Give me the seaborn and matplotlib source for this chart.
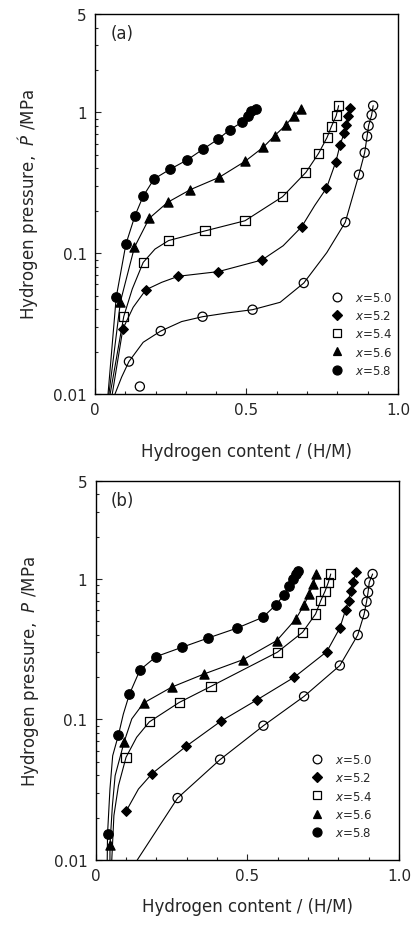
import matplotlib
matplotlib.use("Agg")
import matplotlib.pyplot as plt
import seaborn as sns
import pandas as pd
from matplotlib.lines import Line2D
from matplotlib.ticker import FixedLocator, LogLocator, NullFormatter, MultipleLocator

# composition labels
labels = ["5.0", "5.2", "5.4", "5.6", "5.8"]

# ---- panel (a): measured points (H/M, MPa)
a_50 = [(0.112, 0.017), (0.217, 0.028), (0.355, 0.0354), (0.520, 0.0397), (0.689, 0.0614),
        (0.826, 0.166), (0.871, 0.361), (0.890, 0.518), (0.898, 0.676), (0.903, 0.804),
        (0.913, 0.958), (0.918, 1.117)]
a_50_stray = [(0.148, 0.0113)]
a_52 = [(0.092, 0.029), (0.168, 0.055), (0.275, 0.0686), (0.407, 0.074), (0.551, 0.0895),
        (0.682, 0.154), (0.764, 0.290), (0.795, 0.447), (0.809, 0.590), (0.822, 0.71),
        (0.830, 0.818), (0.836, 0.948), (0.843, 1.074)]
a_54 = [(0.095, 0.0356), (0.159, 0.086), (0.243, 0.123), (0.363, 0.144), (0.495, 0.170),
        (0.619, 0.252), (0.696, 0.375), (0.738, 0.512), (0.766, 0.665), (0.780, 0.793),
        (0.796, 0.948), (0.804, 1.117)]
a_56 = [(0.084, 0.0453), (0.130, 0.110), (0.179, 0.177), (0.240, 0.230), (0.315, 0.283),
        (0.410, 0.346), (0.495, 0.449), (0.555, 0.565), (0.593, 0.684), (0.630, 0.814),
        (0.656, 0.948), (0.679, 1.057)]
a_58 = [(0.070, 0.0486), (0.102, 0.116), (0.132, 0.185), (0.159, 0.254), (0.195, 0.337),
        (0.249, 0.396), (0.305, 0.461), (0.357, 0.549), (0.407, 0.647), (0.445, 0.754),
        (0.484, 0.849), (0.505, 0.948), (0.516, 1.017), (0.533, 1.057)]

# ---- panel (a): extra points
a_50_curve = [(0.066, 0.010), (0.088, 0.0132), (0.159, 0.0233), (0.286, 0.0327),
              (0.435, 0.0376), (0.611, 0.0448), (0.765, 0.101)]
a_52_curve = [(0.057, 0.010), (0.126, 0.0413), (0.220, 0.0621), (0.621, 0.113),
              (0.725, 0.218)]
a_54_curve = [(0.050, 0.010), (0.123, 0.0557), (0.198, 0.107)]
a_56_curve = [(0.046, 0.010)]
a_58_curve = [(0.043, 0.010)]

# ---- panel (b): measured points
b_50 = [(0.270, 0.0276), (0.410, 0.0518), (0.553, 0.0903), (0.687, 0.146), (0.805, 0.242),
        (0.864, 0.399), (0.885, 0.562), (0.893, 0.688), (0.898, 0.803), (0.902, 0.946),
        (0.913, 1.084)]
b_52 = [(0.100, 0.0222), (0.186, 0.0412), (0.298, 0.0644), (0.412, 0.097), (0.532, 0.138),
        (0.655, 0.200), (0.762, 0.304), (0.805, 0.448), (0.824, 0.604), (0.834, 0.70),
        (0.841, 0.825), (0.849, 0.956), (0.858, 1.114)]
b_54 = [(0.100, 0.0538), (0.177, 0.0962), (0.275, 0.132), (0.380, 0.172), (0.599, 0.301),
        (0.682, 0.417), (0.725, 0.563), (0.742, 0.70), (0.756, 0.816), (0.767, 0.946),
        (0.775, 1.084)]
b_56 = [(0.047, 0.0128), (0.094, 0.0695), (0.158, 0.131), (0.251, 0.170), (0.358, 0.211),
        (0.487, 0.267), (0.597, 0.364), (0.660, 0.519), (0.687, 0.653), (0.704, 0.782),
        (0.718, 0.920), (0.725, 1.084)]
b_58 = [(0.039, 0.0153), (0.075, 0.0776), (0.111, 0.151), (0.146, 0.225), (0.199, 0.280),
        (0.284, 0.326), (0.371, 0.380), (0.465, 0.446), (0.551, 0.533), (0.595, 0.656),
        (0.621, 0.773), (0.638, 0.895), (0.652, 1.0), (0.659, 1.084), (0.668, 1.13)]

# ---- panel (b): extra points
b_50_curve = [(0.137, 0.010)]
b_52_curve = [(0.141, 0.032)]
b_54_curve = [(0.053, 0.010), (0.060, 0.0207), (0.075, 0.0338), (0.135, 0.0747)]
b_56_curve = [(0.047, 0.010), (0.055, 0.0243), (0.064, 0.0398), (0.119, 0.101)]
b_58_curve = [(0.038, 0.010), (0.047, 0.032), (0.056, 0.0552), (0.091, 0.109)]

markers = ["o", "D", "s", "^", "o"]
filled = [False, True, False, True, True]
msize = [6.6, 4.9, 6.6, 6.6, 6.8]

sns.set_style("ticks")
plt.rcParams["font.family"] = ["DejaVu Sans"]
plt.rcParams["mathtext.fontset"] = "dejavusans"

fig = plt.figure(figsize=(4.14, 9.29), dpi=100)
ax_a = fig.add_axes([95 / 414, 1 - 395 / 929, 303 / 414, 380 / 929])
ax_b = fig.add_axes([95.7 / 414, 1 - 861 / 929, 303.3 / 414, 379.3 / 929])


def draw_panel(ax, pts, curves, tag, ylab, leg_x, leg_y, xpad):
    for i, (p, c) in enumerate(zip(pts, curves)):
        line = sorted(p + c, key=lambda t: t[1])
        dl = pd.DataFrame(line, columns=["hm", "mpa"])
        sns.lineplot(data=dl, x="hm", y="mpa", ax=ax, sort=False, estimator=None,
                     color="black", linewidth=0.8)
        dp = pd.DataFrame(p, columns=["hm", "mpa"])
        sns.scatterplot(data=dp, x="hm", y="mpa", ax=ax, marker=markers[i],
                        s=msize[i] ** 2,
                        facecolor="black" if filled[i] else "none",
                        edgecolor="black", linewidth=0.9, zorder=3)
    ax.set_yscale("log")
    ax.set_xlim(0, 1.0)
    ax.set_ylim(0.01, 5)
    ax.xaxis.set_major_locator(FixedLocator([0, 0.5, 1.0]))
    ax.set_xticklabels(["0", "0.5", "1.0"])
    ax.xaxis.set_minor_locator(MultipleLocator(0.1))
    ax.yaxis.set_major_locator(FixedLocator([0.01, 0.1, 1, 5]))
    ax.set_yticklabels(["0.01", "0.1", "1", "5"])
    ax.yaxis.set_minor_locator(LogLocator(base=10, subs=range(2, 10)))
    ax.yaxis.set_minor_formatter(NullFormatter())
    ax.tick_params(which="both", direction="in", top=False, right=False,
                   labelsize=11, width=0.8, pad=6)
    ax.tick_params(which="major", length=4)
    ax.tick_params(which="minor", length=2.5)
    for sp in ax.spines.values():
        sp.set_linewidth(1.0)
        sp.set_color("black")
    ax.set_xlabel("Hydrogen content / (H/M)", fontsize=12, labelpad=xpad)
    ax.set_ylabel(ylab, fontsize=12, labelpad=9)
    ax.text(0.05, 0.95, tag, transform=ax.transAxes, fontsize=12, va="center", ha="left")

    handles = [Line2D([], [], linestyle="none", marker=markers[i], markersize=msize[i] * 0.95,
                      markerfacecolor="black" if filled[i] else "none",
                      markeredgecolor="black", markeredgewidth=0.9) for i in range(5)]
    ax.legend(handles, [r"$x$=" + l for l in labels], loc="lower left",
              bbox_to_anchor=(leg_x, leg_y), frameon=False, fontsize=8.5,
              handlelength=1.0, handletextpad=1.0, labelspacing=0.45,
              borderpad=0, borderaxespad=0)


draw_panel(ax_a, [a_50, a_52, a_54, a_56, a_58],
           [a_50_curve, a_52_curve, a_54_curve, a_56_curve, a_58_curve],
           "(a)", "Hydrogen pressure,  $\u1E54$ /MPa", 0.779, 0.045, 18)
sns.scatterplot(data=pd.DataFrame(a_50_stray, columns=["hm", "mpa"]), x="hm", y="mpa",
                ax=ax_a, marker="o", s=6.6 ** 2, facecolor="none", edgecolor="black",
                linewidth=0.9, zorder=3)

draw_panel(ax_b, [b_50, b_52, b_54, b_56, b_58],
           [b_50_curve, b_52_curve, b_54_curve, b_56_curve, b_58_curve],
           "(b)", r"Hydrogen pressure,  $P$ /MPa", 0.71, 0.055, 10)

fig.savefig("out.png", dpi=100)
